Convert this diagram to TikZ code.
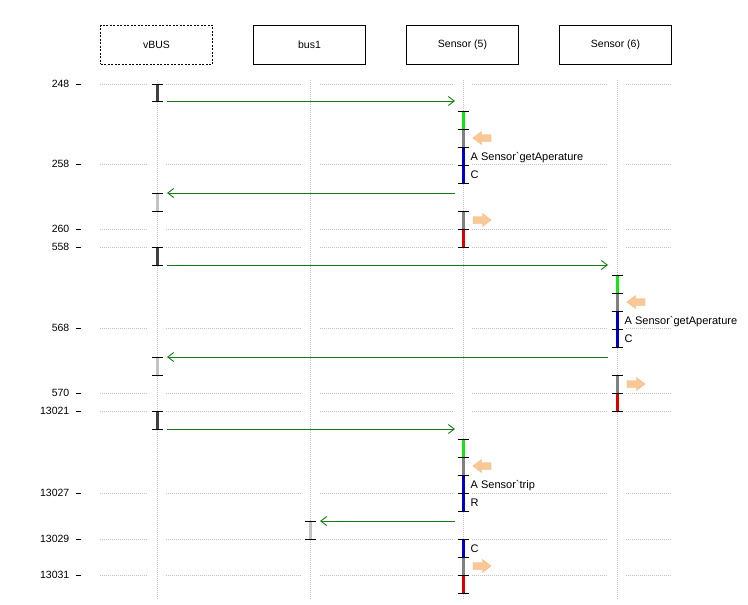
\documentclass[tikz,border=0pt]{standalone}
\usepackage{fontspec}
\setmainfont{Liberation Sans}
\usetikzlibrary{arrows.meta}
\definecolor{msgcol}{RGB}{20,125,20}
\definecolor{gridcol}{RGB}{195,195,195}
\definecolor{darkbar}{RGB}{64,64,64}
\definecolor{lightbar}{RGB}{195,195,195}
\definecolor{greenbar}{RGB}{20,230,20}
\definecolor{graybar}{RGB}{128,128,128}
\definecolor{bluebar}{RGB}{0,0,205}
\definecolor{redbar}{RGB}{220,0,0}
\definecolor{orfill}{RGB}{250,200,150}
\definecolor{ordraw}{RGB}{240,185,130}
\newcommand{\actbar}[4]{%
  \draw[line width=3pt,#4] (#1,#2) -- (#1,#3);
  \draw[tickline] (#1-5.5,#2) -- (#1+5.5,#2);
  \draw[tickline] (#1-5.5,#3) -- (#1+5.5,#3);}
\newcommand{\midtick}[2]{\draw[tickline] (#1-5.5,#2) -- (#1+5.5,#2);}
\newcommand{\leftblock}[2]{%
  \filldraw[oarrow] (#1,#2) -- (#1+8.5,#2-6.5) -- (#1+8.5,#2-3.5) -- (#1+18,#2-3.5)
   -- (#1+18,#2+3.5) -- (#1+8.5,#2+3.5) -- (#1+8.5,#2+6.5) -- cycle;}
\newcommand{\rightblock}[2]{%
  \filldraw[oarrow] (#1+18,#2) -- (#1+9.5,#2-6.5) -- (#1+9.5,#2-3.5) -- (#1,#2-3.5)
   -- (#1,#2+3.5) -- (#1+9.5,#2+3.5) -- (#1+9.5,#2+6.5) -- cycle;}
\begin{document}
\begin{tikzpicture}[x=1pt,y=-1pt,
  font=\fontsize{10.5}{12}\selectfont,
  hdr/.style={draw=black,line width=0.8pt,minimum width=112pt,minimum height=39pt,inner sep=0pt},
  gridline/.style={draw=gridcol,line width=0.7pt,dash pattern=on 1pt off 1pt},
  lifeline/.style={draw=gridcol,line width=0.7pt,dash pattern=on 1pt off 1pt},
  msgarrow/.style={draw=msgcol,line width=0.9pt,-{Straight Barb[length=6pt,width=9pt]}},
  tickline/.style={draw=black,line width=0.9pt},
  tslabel/.style={anchor=east,inner sep=0pt},
  annot/.style={anchor=base west,inner sep=0pt,font=\fontsize{11}{13}\selectfont},
  oarrow/.style={fill=orfill,draw=ordraw,line width=0.4pt}]
\useasboundingbox (0,0) rectangle (748,605);
% headers
\node[hdr,dashed,dash pattern=on 2pt off 1.5pt] (vbus) at (156.5,44.5) {vBUS};
\node[hdr] (bus1) at (309.5,44.5) {bus1};
\node[hdr] (s5) at (462.5,44.5) {Sensor (5)};
\node[hdr] (s6) at (615.5,44.5) {Sensor (6)};
% lifelines
\coordinate (l1a) at (157,80); \coordinate (l1b) at (157,600);
\coordinate (l2a) at (310,80); \coordinate (l2b) at (310,600);
\coordinate (l3a) at (463,80); \coordinate (l3b) at (463,600);
\coordinate (l4a) at (617,80); \coordinate (l4b) at (617,600);
\draw[lifeline] (l1a) -- (l1b);
\draw[lifeline] (l2a) -- (l2b);
\draw[lifeline] (l3a) -- (l3b);
\draw[lifeline] (l4a) -- (l4b);
% grid lines and time labels
\foreach \yy/\tt in {84/248,164/258,229/260,247/558,328/568,393/570,411/13021,493/13027,539/13029,575/13031}{
  \draw[gridline] (100,\yy) -- (148,\yy);
  \draw[gridline] (166,\yy) -- (302,\yy);
  \draw[gridline] (320,\yy) -- (454,\yy);
  \draw[gridline] (472,\yy) -- (608,\yy);
  \draw[gridline] (626,\yy) -- (672,\yy);
  \node[tslabel] (t\tt) at (69.5,\yy) {\tt};
  \draw[tickline] (75.5,\yy) -- (80.5,\yy);
}
% ---- sequence 1
\actbar{157}{84}{101}{darkbar}
\actbar{463}{111}{129}{greenbar}
\actbar{463}{129}{147}{graybar}
\actbar{463}{147}{183}{bluebar}
\midtick{463}{165}
\leftblock{473}{138}
\node[annot] (a1) at (470.5,160) {A Sensor\textasciigrave getAperature};
\node[annot] (c1) at (470.5,178) {C};
\actbar{157}{193}{211}{lightbar}
\actbar{463}{211}{229}{graybar}
\actbar{463}{229}{247}{redbar}
\rightblock{473}{220}
\coordinate (m1s) at (167,101); \coordinate (m1e) at (455,101);
\coordinate (m2s) at (455,193); \coordinate (m2e) at (167,193);
\draw[msgarrow] (m1s) -- (m1e);
\draw[msgarrow] (m2s) -- (m2e);
% ---- sequence 2
\actbar{157}{247}{265}{darkbar}
\actbar{617}{275}{293}{greenbar}
\actbar{617}{293}{311}{graybar}
\actbar{617}{311}{347}{bluebar}
\midtick{617}{329}
\leftblock{627}{302}
\node[annot] (a2) at (624.5,324) {A Sensor\textasciigrave getAperature};
\node[annot] (c2) at (624.5,342) {C};
\actbar{157}{357}{375}{lightbar}
\actbar{617}{375}{393}{graybar}
\actbar{617}{393}{411}{redbar}
\rightblock{627}{384}
\coordinate (m3s) at (167,265); \coordinate (m3e) at (608,265);
\coordinate (m4s) at (608,357); \coordinate (m4e) at (167,357);
\draw[msgarrow] (m3s) -- (m3e);
\draw[msgarrow] (m4s) -- (m4e);
% ---- sequence 3
\actbar{157}{411}{429}{darkbar}
\actbar{463}{439}{457}{greenbar}
\actbar{463}{457}{475}{graybar}
\actbar{463}{475}{511}{bluebar}
\midtick{463}{493}
\leftblock{473}{466}
\node[annot] (a3) at (470.5,488) {A Sensor\textasciigrave trip};
\node[annot] (r3) at (470.5,506) {R};
\actbar{310}{521}{539}{lightbar}
\actbar{463}{539}{557}{bluebar}
\node[annot] (c3) at (470.5,552) {C};
\actbar{463}{557}{575}{graybar}
\actbar{463}{575}{593}{redbar}
\rightblock{473}{566}
\coordinate (m5s) at (167,429); \coordinate (m5e) at (455,429);
\coordinate (m6s) at (455,521); \coordinate (m6e) at (320,521);
\draw[msgarrow] (m5s) -- (m5e);
\draw[msgarrow] (m6s) -- (m6e);
\end{tikzpicture}
\end{document}
